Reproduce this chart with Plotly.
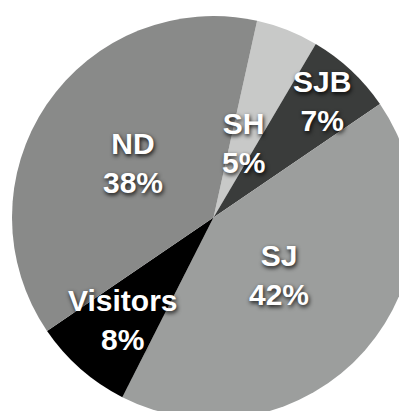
import math
import plotly.graph_objects as go

# Data
labels = ["SH", "SJB", "SJ", "Visitors", "ND"]
values = [5, 7, 42, 8, 38]

# Style
colors = ["#c8c9c8", "#3a3c3b", "#9c9e9d", "#000000", "#898a89"]
label_radius = [0.40, 0.79, 0.43, 0.68, 0.48]  # fraction of pie radius for each label
start_rotation = 12.5

fig = go.Figure(
    go.Pie(
        labels=labels,
        values=values,
        sort=False,
        direction="clockwise",
        rotation=start_rotation,
        marker=dict(colors=colors, line=dict(width=0)),
        textinfo="none",
        hoverinfo="label+percent",
        showlegend=False,
        domain=dict(x=[0, 1], y=[0, 1]),
    )
)

total = sum(values)
cum = 0
annotations = []
for lab, v, f in zip(labels, values, label_radius):
    mid = start_rotation + (cum + v / 2) / total * 360
    cum += v
    th = math.radians(mid)
    x = 0.5 + f * 0.5 * math.sin(th)
    y = 0.5 + f * 0.5 * math.cos(th)
    pct = round(v / total * 100)
    annotations.append(
        dict(
            x=x,
            y=y,
            xref="paper",
            yref="paper",
            text=f"{lab}<br>{pct}%",
            showarrow=False,
            xanchor="center",
            yanchor="middle",
            align="center",
            font=dict(
                family="Liberation Sans, Arial, sans-serif",
                size=30,
                color="white",
                weight="bold",
                shadow="1px 2px 4px rgba(0,0,0,0.9)",
            ),
        )
    )

fig.update_layout(
    width=407,
    height=411,
    margin=dict(l=4, r=0, t=8, b=0, pad=0),
    paper_bgcolor="white",
    plot_bgcolor="white",
    annotations=annotations,
)

fig.write_html("out.html")
